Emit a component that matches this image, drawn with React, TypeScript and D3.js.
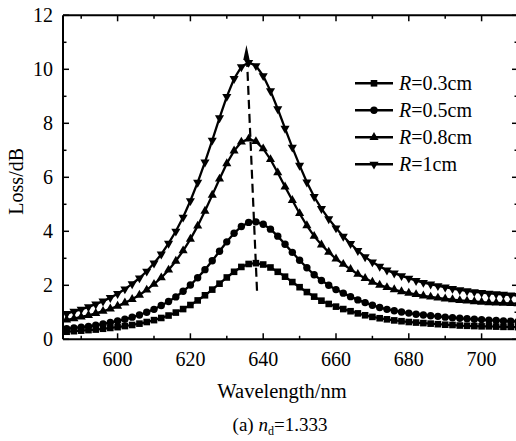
import React from 'react'
import * as d3 from 'd3'

// wavelength samples (nm)
const wavelength = [
  586, 588, 590, 592, 594, 596, 598, 600, 602, 604, 606, 608, 610, 612, 614, 616, 618, 620, 622, 624, 626, 628, 630, 632, 634, 636,
  638, 640, 642, 644, 646, 648, 650, 652, 654, 656, 658, 660, 662, 664, 666, 668, 670, 672, 674, 676, 678, 680, 682, 684, 686, 688,
  690, 692, 694, 696, 698, 700, 702, 704, 706, 708, 710,
]

const lossR03 = [
  0.28, 0.30, 0.32, 0.34, 0.36, 0.39, 0.42, 0.45, 0.49, 0.53, 0.58, 0.64, 0.71, 0.79, 0.88, 0.99, 1.12, 1.27, 1.44, 1.63, 1.84, 2.06, 2.29, 2.50, 2.68, 2.79,
  2.82, 2.77, 2.66, 2.50, 2.32, 2.12, 1.93, 1.75, 1.58, 1.43, 1.31, 1.21, 1.12, 1.04, 0.96, 0.89, 0.83, 0.78, 0.74, 0.70, 0.67, 0.64, 0.62, 0.60, 0.58, 0.56,
  0.54, 0.53, 0.51, 0.50, 0.49, 0.48, 0.48, 0.47, 0.46, 0.46, 0.45,
]
const lossR05 = [
  0.39, 0.42, 0.45, 0.48, 0.52, 0.57, 0.62, 0.68, 0.74, 0.82, 0.90, 1.00, 1.11, 1.25, 1.40, 1.57, 1.78, 2.01, 2.28, 2.58, 2.91, 3.26, 3.61, 3.93, 4.18, 4.33,
  4.35, 4.26, 4.08, 3.82, 3.52, 3.22, 2.93, 2.65, 2.39, 2.18, 2.00, 1.84, 1.71, 1.58, 1.46, 1.36, 1.26, 1.18, 1.11, 1.06, 1.01, 0.97, 0.93, 0.90, 0.87, 0.85,
  0.82, 0.80, 0.78, 0.76, 0.74, 0.73, 0.71, 0.70, 0.68, 0.67, 0.66,
]
const lossR08 = [
  0.72, 0.77, 0.83, 0.89, 0.96, 1.04, 1.13, 1.23, 1.35, 1.48, 1.64, 1.83, 2.04, 2.28, 2.57, 2.90, 3.28, 3.71, 4.20, 4.75, 5.34, 5.94, 6.51, 6.98, 7.31, 7.42,
  7.33, 7.06, 6.66, 6.17, 5.65, 5.15, 4.66, 4.21, 3.82, 3.50, 3.23, 2.98, 2.78, 2.59, 2.41, 2.26, 2.12, 2.01, 1.92, 1.84, 1.77, 1.71, 1.66, 1.61, 1.57, 1.53,
  1.50, 1.47, 1.44, 1.42, 1.40, 1.38, 1.36, 1.35, 1.34, 1.33, 1.32,
]
const lossR1 = [
  0.95, 1.03, 1.11, 1.20, 1.30, 1.41, 1.54, 1.69, 1.86, 2.05, 2.27, 2.52, 2.82, 3.15, 3.55, 4.00, 4.52, 5.13, 5.81, 6.56, 7.37, 8.20, 8.99, 9.65, 10.09, 10.25,
  10.13, 9.76, 9.20, 8.53, 7.81, 7.11, 6.44, 5.82, 5.28, 4.84, 4.46, 4.12, 3.81, 3.54, 3.28, 3.05, 2.86, 2.70, 2.56, 2.45, 2.35, 2.26, 2.17, 2.10, 2.04, 1.98,
  1.93, 1.88, 1.83, 1.79, 1.76, 1.73, 1.70, 1.68, 1.66, 1.64, 1.62,
]

const seriesLabels = ['0.3cm', '0.5cm', '0.8cm', '1cm']
const seriesValues = [lossR03, lossR05, lossR08, lossR1]
const seriesMarkers = ['square', 'circle', 'triangleUp', 'triangleDown']

const xTicks = [600, 620, 640, 660, 680, 700]
const xMinorTicks = [590, 610, 630, 650, 670, 690, 710]
const yTicks = [0, 2, 4, 6, 8, 10, 12]
const yMinorTicks = [1, 3, 5, 7, 9, 11]

// peak shift arrow: [wavelength, loss] from tail to head
const arrowLine = [[638.3, 1.8], [635.6, 10.2]]
const arrowTip = [635.4, 10.9]

const W = 516
const H = 441
const font = 'Liberation Serif, Tinos, Times New Roman, Times, serif'

function Marker({ type, x, y }: { type: string; x: number; y: number }) {
  if (type === 'square') return <rect x={x - 3.3} y={y - 3.3} width={6.6} height={6.6} fill="#000" />
  if (type === 'circle') return <circle cx={x} cy={y} r={3.7} fill="#000" />
  const path = d3.symbol().type(d3.symbolTriangle).size(36)()
  const rot = type === 'triangleDown' ? 180 : 0
  return <path d={path || ''} transform={`translate(${x},${y}) rotate(${rot})`} fill="#000" />
}

export default function App() {
  const x = d3.scaleLinear().domain([585, 710]).range([63, 518])
  const y = d3.scaleLinear().domain([0, 12]).range([339.3, 15.3])
  const [x0, x1] = x.range()
  const [y0, y1] = y.range()

  const line = d3.line<number>()
    .x((_, i) => x(wavelength[i]))
    .y(d => y(d))

  // arrow head triangle in pixel space
  const tx = x(arrowTip[0]), ty = y(arrowTip[1])
  const head = `M${tx},${ty} L${tx - 3.2},${ty + 15} L${tx + 3.2},${ty + 15} Z`

  return (
    <div style={{ position: 'absolute', left: 0, top: 0 }}>
      <svg width={W} height={H} style={{ display: 'block', background: '#fff', fontFamily: font }}>
        {/* axes frame */}
        <g stroke="#000" strokeWidth={2} fill="none">
          <line x1={x0} y1={y0} x2={x1} y2={y0} />
          <line x1={x0} y1={y1} x2={x1} y2={y1} />
          <line x1={x0} y1={y0} x2={x0} y2={y1} />
          <line x1={x1} y1={y0} x2={x1} y2={y1} />
        </g>
        <g stroke="#000" strokeWidth={1.5}>
          {xTicks.map(t => (
            <g key={'xt' + t}>
              <line x1={x(t)} x2={x(t)} y1={y0} y2={y0 - 6} />
              <line x1={x(t)} x2={x(t)} y1={y1} y2={y1 + 6} />
            </g>
          ))}
          {xMinorTicks.map(t => (
            <g key={'xm' + t}>
              <line x1={x(t)} x2={x(t)} y1={y0} y2={y0 - 3.5} />
              <line x1={x(t)} x2={x(t)} y1={y1} y2={y1 + 3.5} />
            </g>
          ))}
          {yTicks.map(t => (
            <g key={'yt' + t}>
              <line x1={x0} x2={x0 + 6} y1={y(t)} y2={y(t)} />
              <line x1={x1} x2={x1 - 6} y1={y(t)} y2={y(t)} />
            </g>
          ))}
          {yMinorTicks.map(t => (
            <g key={'ym' + t}>
              <line x1={x0} x2={x0 + 3.5} y1={y(t)} y2={y(t)} />
              <line x1={x1} x2={x1 - 3.5} y1={y(t)} y2={y(t)} />
            </g>
          ))}
        </g>
        <g style={{ fontFamily: font, fontSize: '20px' }} fill="#000">
          {xTicks.map(t => (
            <text key={'xl' + t} x={x(t)} y={366} textAnchor="middle">{t}</text>
          ))}
          {yTicks.map(t => (
            <text key={'yl' + t} x={53} y={y(t)} dy="0.35em" textAnchor="end">{t}</text>
          ))}
          <text x={282} y={398} textAnchor="middle" style={{ fontSize: '20.5px' }}>Wavelength/nm</text>
          <text transform={`translate(23,${(y0 + y1) / 2 + 4}) rotate(-90)`} textAnchor="middle">Loss/dB</text>
          <text x={280} y={431} textAnchor="middle" style={{ fontSize: '19px' }}>
            (a) <tspan fontStyle="italic">n</tspan><tspan style={{ fontSize: '12px' }} dy={4}>d</tspan><tspan dy={-4}>=1.333</tspan>
          </text>
        </g>

        {/* series */}
        {seriesValues.map((vals, si) => (
          <g key={'s' + si}>
            <path d={line(vals) || ''} fill="none" stroke="#000" strokeWidth={2.3} />
            {vals.map((v, i) => (
              <Marker key={i} type={seriesMarkers[si]} x={x(wavelength[i])} y={y(v)} />
            ))}
          </g>
        ))}

        {/* peak shift arrow */}
        <line
          x1={x(arrowLine[0][0])} y1={y(arrowLine[0][1])}
          x2={x(arrowLine[1][0])} y2={y(arrowLine[1][1])}
          stroke="#000" strokeWidth={2.2} strokeDasharray="9,5"
        />
        <path d={head} fill="#000" />

        {/* legend */}
        <g style={{ fontFamily: font, fontSize: '20px' }} fill="#000">
          {seriesLabels.map((lab, i) => {
            const ly = 83.3 + i * 27
            return (
              <g key={'lg' + i}>
                <line x1={355} x2={393} y1={ly} y2={ly} stroke="#000" strokeWidth={2.4} />
                <Marker type={seriesMarkers[i]} x={374} y={ly} />
                <text x={399} y={ly} dy="0.35em">
                  <tspan fontStyle="italic">R</tspan>={lab}
                </text>
              </g>
            )
          })}
        </g>
      </svg>
    </div>
  )
}
